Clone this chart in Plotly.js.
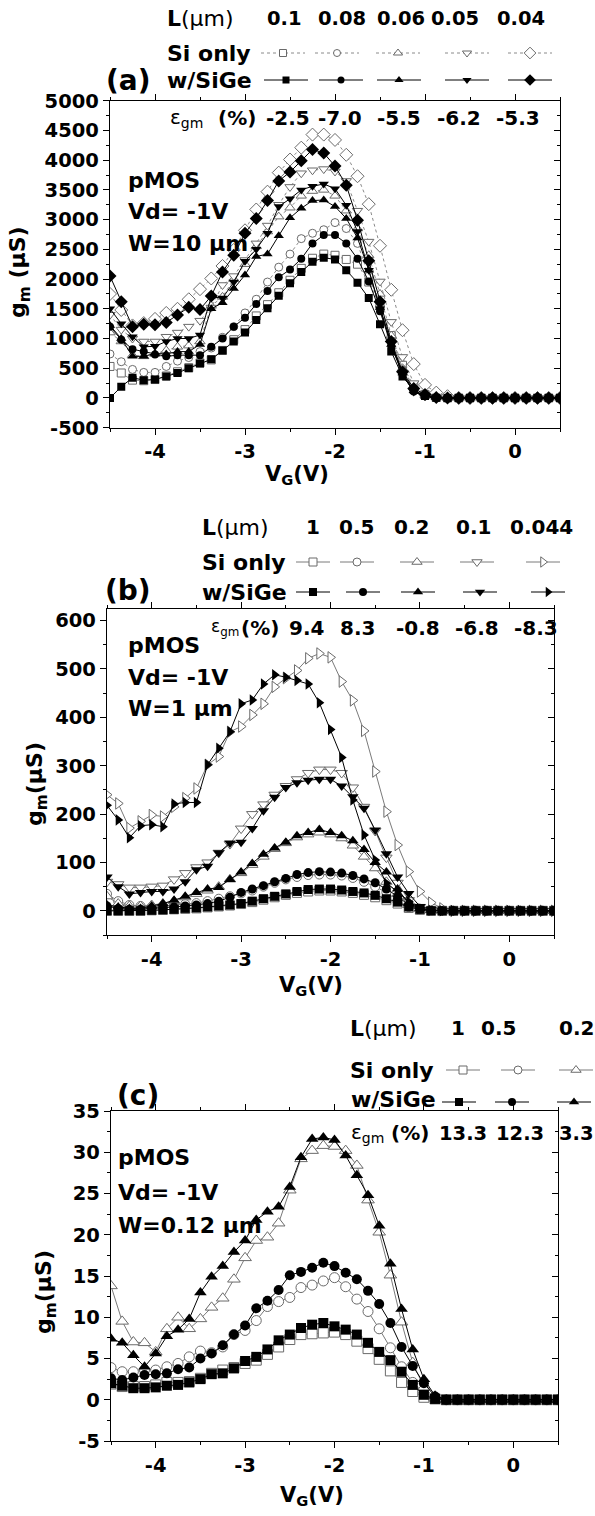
<!DOCTYPE html>
<html><head><meta charset="utf-8">
<script src="https://cdn.plot.ly/plotly-3.0.1.min.js"></script>
<style>body{margin:0;background:#fff}#chart{width:595px;height:1516px}</style>
</head><body><div id="chart"></div>
<script>
// ---------------- DATA ----------------
const vg = [-4.5,-4.375,-4.25,-4.125,-4,-3.875,-3.75,-3.625,-3.5,-3.375,-3.25,-3.125,-3,-2.875,-2.75,-2.625,-2.5,-2.375,-2.25,-2.125,-2,-1.875,-1.75,-1.625,-1.5,-1.375,-1.25,-1.125,-1,-0.875,-0.75,-0.625,-0.5,-0.375,-0.25,-0.125,0,0.125,0.25,0.375,0.5];

// panel (a) W=10um, L = 0.1 0.08 0.06 0.05 0.04
const aLengths = ['0.1','0.08','0.06','0.05','0.04'];
const aEps = ['-2.5','-7.0','-5.5','-6.2','-5.3'];
const aSi010   = [530,420,300,290,310,370,440,510,590,640,800,980,1150,1380,1570,1770,1980,2180,2350,2420,2400,2330,2250,1950,1550,1050,550,200,60,10,0,0,0,0,0,0,0,0,0,0,0];
const aSiGe010 = [0,190,340,300,310,360,420,500,580,650,800,950,1100,1310,1510,1720,1930,2120,2290,2360,2330,2150,1940,1680,1240,780,360,135,35,5,0,0,0,0,0,0,0,0,0,0,0];
const aSi008   = [740,610,480,430,430,530,620,680,780,840,1020,1200,1430,1660,1950,2200,2420,2680,2770,2830,2950,2850,2600,2050,1550,1000,480,150,40,10,0,0,0,0,0,0,0,0,0,0,0];
const aSiGe008 = [1200,980,820,780,730,700,720,720,720,860,1000,1200,1350,1580,1800,2030,2160,2340,2600,2740,2740,2600,2340,1960,1460,880,400,110,30,5,0,0,0,0,0,0,0,0,0,0,0];
const aSi006   = [1100,950,720,700,740,800,860,880,950,1550,1700,2000,2250,2550,2800,3050,3200,3400,3480,3500,3400,3150,2850,2400,1750,1050,500,180,50,10,0,0,0,0,0,0,0,0,0,0,0];
const aSiGe006 = [1220,1000,700,700,750,740,780,780,900,1500,1600,1840,2070,2380,2420,2730,3030,3190,3320,3330,3220,3020,2690,2150,1520,900,420,120,30,5,0,0,0,0,0,0,0,0,0,0,0];
const aSi005   = [1400,1150,1000,950,950,1030,1100,1200,1300,1520,1900,2050,2320,2600,2900,3250,3550,3780,3830,3850,3810,3650,3150,2630,1960,1280,690,250,60,15,0,0,0,0,0,0,0,0,0,0,0];
const aSiGe005 = [1500,1250,1030,860,870,950,1000,1000,1060,1700,1680,1950,2300,2500,2770,3220,3350,3500,3560,3600,3520,3240,2800,2150,1500,920,390,100,30,5,0,0,0,0,0,0,0,0,0,0,0];
const aSi004   = [1750,1480,1220,1260,1330,1430,1500,1660,1830,2010,2220,2490,2820,3170,3470,3790,4010,4210,4430,4430,4340,4090,3730,3260,2560,1820,1140,570,220,90,30,0,0,0,0,0,0,0,0,0,0];
const aSiGe004 = [2050,1620,1200,1240,1230,1270,1395,1525,1490,1715,2120,2400,2770,3020,3320,3650,3800,3990,4180,4120,3900,3580,2990,2310,1620,950,440,160,60,10,0,0,0,0,0,0,0,0,0,0,0];

// panel (b) W=1um, L = 1 0.5 0.2 0.1 0.044
const bLengths = ['1','0.5','0.2','0.1','0.044'];
const bEps = ['9.4','8.3','-0.8','-6.8','-8.3'];
const bSi1      = [0,0,0,0,1,2,3,4,5,7,9,11,14,18,23,28,33,37,40,42,42,40,37,33,28,22,15,6,2,0,0,0,0,0,0,0,0,0,0,0,0];
const bSiGe1    = [0,0,0,0,1,2,3,5,6,8,10,12,15,20,25,30,35,40,44,45,45,43,40,37,32,25,18,8,3,0,0,0,0,0,0,0,0,0,0,0,0];
const bSi05     = [35,20,12,10,8,10,12,14,16,20,25,30,36,42,50,58,65,70,74,75,75,73,68,60,50,38,22,8,3,0,0,0,0,0,0,0,0,0,0,0,0];
const bSiGe05   = [10,5,3,3,5,6,8,10,12,15,20,28,38,45,52,60,67,75,79,81,80,78,73,66,58,45,30,12,4,1,0,0,0,0,0,0,0,0,0,0,0];
const bSi02     = [30,15,10,10,12,15,20,28,35,42,50,65,78,95,112,128,140,152,158,162,158,150,135,112,88,60,35,12,4,1,0,0,0,0,0,0,0,0,0,0,0];
const bSiGe02   = [12,8,5,5,10,15,22,30,38,45,48,65,80,98,117,130,142,155,162,168,162,155,145,127,100,80,45,15,5,1,0,0,0,0,0,0,0,0,0,0,0];
const bSi01     = [60,55,48,48,50,52,65,78,90,100,120,138,170,200,220,240,258,272,285,292,292,285,255,215,165,110,58,22,8,2,0,0,0,0,0,0,0,0,0,0,0];
const bSiGe01   = [70,50,35,38,40,40,45,60,85,92,120,140,142,170,207,235,255,265,270,272,272,258,236,212,167,118,70,36,9,3,0,0,0,0,0,0,0,0,0,0,0];
const bSi0044   = [240,222,171,185,198,195,215,233,253,302,319,370,381,405,428,463,481,497,522,532,524,474,435,372,288,205,136,81,40,17,5,0,0,0,0,0,0,0,0,0,0];
const bSiGe0044 = [218,188,151,176,178,174,221,224,224,302,336,370,428,436,469,488,483,476,469,430,375,317,229,157,105,57,40,19,5,1,0,0,0,0,0,0,0,0,0,0,0];

// panel (c) W=0.12um, L = 1 0.5 0.2
const cLengths = ['1','0.5','0.2'];
const cEps = ['13.3','12.3','3.3'];
const cSi1    = [1.9,1.6,1.6,1.6,1.8,2.1,2.1,2.2,2.6,3.2,3.6,3.9,4.4,4.8,5.5,6.4,7.3,7.9,8.0,8.1,8.2,7.9,7.1,6.2,4.9,3.5,2.1,1.0,0.3,0.1,0,0,0,0,0,0,0,0,0,0,0];
const cSiGe1  = [2.0,1.7,1.4,1.4,1.5,1.7,1.8,2.1,2.5,3.1,3.2,3.8,4.7,5.2,6.1,7.2,7.9,8.7,9.1,9.3,8.9,8.5,7.9,6.9,5.8,4.8,3.4,1.8,0.6,0.1,0,0,0,0,0,0,0,0,0,0,0];
const cSi05   = [3.9,3.4,3.4,3.6,3.6,4.0,4.4,5.2,5.9,5.7,6.4,7.9,8.4,9.6,11.3,11.9,12.4,13.6,13.9,14.4,14.8,13.7,12.2,10.7,8.6,6.3,4.0,2.1,0.8,0.2,0,0,0,0,0,0,0,0,0,0,0];
const cSiGe05 = [2.6,2.4,2.7,3.0,3.1,3.2,3.7,3.9,5.0,5.6,6.6,7.9,9.0,11.1,12.0,13.3,15.1,15.5,16.0,16.6,16.2,15.4,14.6,13.2,11.6,9.3,6.4,4.1,2.0,0.4,0,0,0,0,0,0,0,0,0,0,0];
const cSi02   = [13.8,9.5,7.0,6.9,5.8,8.6,10.0,8.6,9.8,11.2,12.3,14.6,17.2,19.3,19.7,21.4,25.4,29.2,30.2,30.8,30.7,30.2,28.4,24.2,20.3,15.1,9.4,4.5,1.5,0.2,0,0,0,0,0,0,0,0,0,0,0];
const cSiGe02 = [7.4,6.9,5.4,4.0,5.6,7.7,8.5,9.8,13.0,14.9,16.2,17.9,19.3,21.8,22.8,23.4,25.8,29.4,31.6,31.8,31.5,29.6,27.2,24.8,21.1,16.5,11.0,6.1,2.5,0.5,0,0,0,0,0,0,0,0,0,0,0];

// tick labels
const xTickVals = [-4,-3,-2,-1,0];
const xTickText = ['-4','-3','-2','-1','0'];
const aYTickVals = [-500,0,500,1000,1500,2000,2500,3000,3500,4000,4500,5000];
const aYTickText = ['-500','0','500','1000','1500','2000','2500','3000','3500','4000','4500','5000'];
const bYTickVals = [0,100,200,300,400,500,600];
const bYTickText = ['0','100','200','300','400','500','600'];
const cYTickVals = [-5,0,5,10,15,20,25,30,35];
const cYTickText = ['-5','0','5','10','15','20','25','30','35'];

// ---------------- LAYOUT / STYLE ----------------
const W = 595, H = 1516;
const FONT = 'DejaVu Sans';
const geo = {
  a: {l:110, r:560, t:100.7, b:427.7, yr:[-500,5000], mdy:250},
  b: {l:107, r:554, t:609,   b:935,   yr:[-50,624],   mdy:50},
  c: {l:111, r:558, t:1111,  b:1441,  yr:[-5,35],     mdy:2.5}
};
const symA = ['square','circle','triangle-up','triangle-down','diamond'];
const symB = ['square','circle','triangle-up','triangle-down','triangle-right'];
const symC = ['square','circle','triangle-up'];
const GRAY = '#6a6a6a';
function msize(sym, s){ if(sym==='diamond') return s+2; if(sym.indexOf('triangle')===0) return s+1; return s; }
function openMarker(sym, size){ return {symbol:sym, size:msize(sym,size), color:'#ffffff', line:{color:GRAY, width:1}}; }
function fillMarker(sym, size){ return {symbol:sym, size:msize(sym,size), color:'#000000', line:{color:'#000000', width:0}}; }

const traces = [];
function series(xa, ya, ys, marker, line){
  traces.push({x:vg, y:ys, xaxis:xa, yaxis:ya, mode:'lines+markers', marker, line, hoverinfo:'x+y', showlegend:false});
}
const siDot = {color:'#8a8a8a', width:1, dash:'dot'};
const siSolid = {color:'#7a7a7a', width:1};
const geSolid = {color:'#000000', width:1};

// panel a
[aSi010,aSi008,aSi006,aSi005,aSi004].forEach((s,i)=>series('x','y', s, openMarker(symA[i],8), siDot));
[aSiGe010,aSiGe008,aSiGe006,aSiGe005,aSiGe004].forEach((s,i)=>series('x','y', s, fillMarker(symA[i],8), geSolid));
// panel b
[bSi1,bSi05,bSi02,bSi01,bSi0044].forEach((s,i)=>series('x2','y2', s, openMarker(symB[i],9), siSolid));
[bSiGe1,bSiGe05,bSiGe02,bSiGe01,bSiGe0044].forEach((s,i)=>series('x2','y2', s, fillMarker(symB[i],9), geSolid));
// panel c
[cSi1,cSi05,cSi02].forEach((s,i)=>series('x3','y3', s, openMarker(symC[i],10), siSolid));
[cSiGe1,cSiGe05,cSiGe02].forEach((s,i)=>series('x3','y3', s, fillMarker(symC[i],10), geSolid));

// legend swatches on a full-page pixel overlay axis (x4/y4)
function swatch(xc, yc, half, line, marker){
  traces.push({x:[xc-half, xc+half], y:[yc,yc], xaxis:'x4', yaxis:'y4', mode:'lines', line, hoverinfo:'skip', showlegend:false});
  traces.push({x:[xc], y:[yc], xaxis:'x4', yaxis:'y4', mode:'markers', marker, hoverinfo:'skip', showlegend:false});
}
const legA = {si:[283,337,398,467,530], ge:[286,341,399,467,530], siY:53, geY:80, half:22};
legA.si.forEach((x,i)=>swatch(x, legA.siY, legA.half, siDot, openMarker(symA[i],7)));
legA.ge.forEach((x,i)=>swatch(x, legA.geY, legA.half, geSolid, fillMarker(symA[i],7)));
const legB = {si:[313,357,417,477,543], ge:[313,363,418,480,548], siY:562, geY:592, half:17};
legB.si.forEach((x,i)=>swatch(x, legB.siY, legB.half, siSolid, openMarker(symB[i],8)));
legB.ge.forEach((x,i)=>swatch(x, legB.geY, legB.half, geSolid, fillMarker(symB[i],8)));
const legC = {si:[463,518,576], ge:[459,512,574], siY:1070, geY:1102, half:17};
legC.si.forEach((x,i)=>swatch(x, legC.siY, legC.half, siSolid, openMarker(symC[i],8)));
legC.ge.forEach((x,i)=>swatch(x, legC.geY, legC.half, geSolid, fillMarker(symC[i],8)));

// annotations
const ann = [];
function txt(x, y, text, o={}){
  ann.push({x, y, xref:'x4', yref:'y4', text, showarrow:false,
    xanchor:o.xa||'center', yanchor:o.ya||'middle', textangle:o.ang||0,
    font:{family:FONT, size:o.size||22, color:'#000', weight:o.w||'bold'}});
}
// panel a text
txt(165, 18, '<b>L</b>(μm)', {xa:'left', w:'normal', size:22});
[284,342,401,455,521].forEach((x,i)=>txt(x, 18, aLengths[i], {size:19.5}));
txt(165, 53, 'Si only', {xa:'left'});
txt(165, 80, 'w/SiGe', {xa:'left'});
txt(128, 80, '(a)', {size:28});
txt(168, 118, 'ε<sub>gm</sub>', {xa:'left', w:'normal', size:20});
txt(216, 118, '(%)', {xa:'left', size:20});
[288,340,399,459,518].forEach((x,i)=>txt(x, 118, aEps[i], {size:20}));
txt(126, 180, 'pMOS', {xa:'left'});
txt(126, 211, 'Vd= -1V', {xa:'left'});
txt(126, 243, 'W=10 μm', {xa:'left'});
txt(19, 272, 'g<sub>m</sub> (μS)', {ang:-90, size:22});
txt(297, 475, 'V<sub>G</sub>(V)', {size:21});

// panel b text
txt(200, 527, '<b>L</b>(μm)', {xa:'left', w:'normal', size:22});
[313,356,411,473,541].forEach((x,i)=>txt(x, 527, bLengths[i], {size:20}));
txt(200, 562, 'Si only', {xa:'left'});
txt(200, 592, 'w/SiGe', {xa:'left'});
txt(128, 590, '(b)', {size:28});
txt(209, 627, 'ε<sub>gm</sub>', {xa:'left', w:'normal', size:17});
txt(239, 628, '(%)', {xa:'left', size:20});
[306,357,418,477,536].forEach((x,i)=>txt(x, 628, bEps[i], {size:20}));
txt(126, 645, 'pMOS', {xa:'left'});
txt(126, 677, 'Vd= -1V', {xa:'left'});
txt(126, 708, 'W=1 μm', {xa:'left'});
txt(36, 784, 'g<sub>m</sub>(μS)', {ang:-90, size:22});
txt(311, 986, 'V<sub>G</sub>(V)', {size:21});

// panel c text
txt(348, 1028, '<b>L</b>(μm)', {xa:'left', w:'normal', size:22});
[458,498,576].forEach((x,i)=>txt(x, 1028, cLengths[i], {size:20}));
txt(348, 1070, 'Si only', {xa:'left'});
txt(349, 1099, 'w/SiGe', {xa:'left'});
txt(138, 1095, '(c)', {size:28});
txt(349, 1133, 'ε<sub>gm</sub>', {xa:'left', w:'normal', size:20});
txt(389, 1133, '(%)', {xa:'left', size:20});
[463,520,576].forEach((x,i)=>txt(x, 1133, cEps[i], {size:19.5}));
txt(116, 1157, 'pMOS', {xa:'left'});
txt(116, 1192, 'Vd= -1V', {xa:'left'});
txt(116, 1225, 'W=0.12 μm', {xa:'left'});
txt(45, 1292, 'g<sub>m</sub>(μS)', {ang:-90, size:22});
txt(312, 1496, 'V<sub>G</sub>(V)', {size:21});

// axes
const tickFont = {family:FONT, size:19.5, color:'#000', weight:'bold'};
function xAxis(g, anchor){
  return {domain:[g.l/W, g.r/W], range:[-4.5,0.5], anchor, tickmode:'array', tickvals:xTickVals, ticktext:xTickText,
    ticks:'outside', ticklen:6, tickwidth:1, tickcolor:'#000',
    minor:{tickmode:'linear', tick0:0, dtick:0.5, ticks:'outside', ticklen:3, tickwidth:1, tickcolor:'#000'},
    showline:true, linecolor:'#000', linewidth:1.2, mirror:'ticks', showgrid:false, zeroline:false,
    tickfont:tickFont, fixedrange:true};
}
function yAxis(g, anchor, tv, tt){
  return {domain:[1-g.b/H, 1-g.t/H], range:g.yr, anchor, tickmode:'array', tickvals:tv, ticktext:tt,
    ticks:'outside', ticklen:6, tickwidth:1, tickcolor:'#000',
    minor:{tickmode:'linear', tick0:0, dtick:g.mdy, ticks:'outside', ticklen:3, tickwidth:1, tickcolor:'#000'},
    showline:true, linecolor:'#000', linewidth:1.2, mirror:true, showgrid:false, zeroline:false,
    tickfont:tickFont, fixedrange:true};
}
// right-hand axes with inward ticks (no labels)
function yRight(g, over, anchor, tv){
  return {domain:[1-g.b/H, 1-g.t/H], range:g.yr, overlaying:over, anchor, side:'right', tickmode:'array', tickvals:tv,
    ticks:'inside', ticklen:6, tickwidth:1, tickcolor:'#000', showticklabels:false,
    minor:{tickmode:'linear', tick0:0, dtick:g.mdy, ticks:'inside', ticklen:3, tickwidth:1, tickcolor:'#000'},
    showline:false, showgrid:false, zeroline:false, fixedrange:true};
}

const layout = {
  width:W, height:H, margin:{l:0,r:0,t:0,b:0},
  paper_bgcolor:'#ffffff', plot_bgcolor:'rgba(0,0,0,0)',
  showlegend:false,
  xaxis: xAxis(geo.a,'y'),  yaxis: yAxis(geo.a,'x', aYTickVals, aYTickText),
  xaxis2: xAxis(geo.b,'y2'), yaxis2: yAxis(geo.b,'x2', bYTickVals, bYTickText),
  xaxis3: xAxis(geo.c,'y3'), yaxis3: yAxis(geo.c,'x3', cYTickVals, cYTickText),
  xaxis4: {domain:[0,1], range:[0,W], anchor:'y4', visible:false, fixedrange:true},
  yaxis4: {domain:[0,1], range:[H,0], anchor:'x4', visible:false, fixedrange:true},
  yaxis5: yRight(geo.a,'y','x', aYTickVals),
  yaxis6: yRight(geo.b,'y2','x2', bYTickVals),
  yaxis7: yRight(geo.c,'y3','x3', cYTickVals),
  annotations: ann
};
// dummy invisible traces so the right-hand axes are drawn
traces.unshift({x:[-10], y:[0], xaxis:'x', yaxis:'y5', mode:'markers', marker:{opacity:0}, hoverinfo:'skip', showlegend:false});
traces.unshift({x:[-10], y:[0], xaxis:'x2', yaxis:'y6', mode:'markers', marker:{opacity:0}, hoverinfo:'skip', showlegend:false});
traces.unshift({x:[-10], y:[0], xaxis:'x3', yaxis:'y7', mode:'markers', marker:{opacity:0}, hoverinfo:'skip', showlegend:false});
Plotly.newPlot('chart', traces, layout, {staticPlot:true, displayModeBar:false});
</script>
</body></html>
